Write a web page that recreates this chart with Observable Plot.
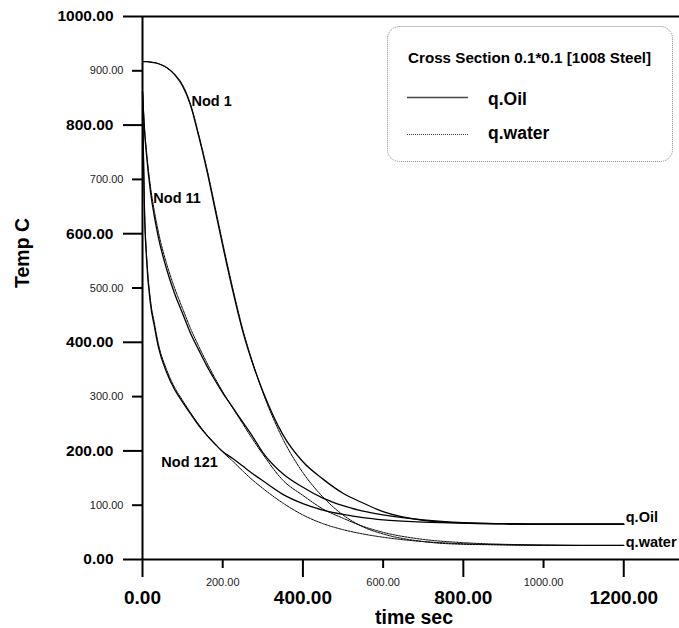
<!DOCTYPE html>
<html><head><meta charset="utf-8">
<script src="https://cdn.jsdelivr.net/npm/d3@7"></script>
<script src="https://cdn.jsdelivr.net/npm/@observablehq/plot@0.6"></script>
<style>body{margin:0;background:#fff;} #chart{width:679px;height:628px;}</style>
</head><body><div id="chart"></div>
<script>
// ---- data ----
const time = [0,2,5,10,20,30,40,60,80,100,120,140,160,180,200,225,250,275,300,350,400,450,500,550,600,700,800,900,1000,1100,1200];
const nod1Oil   = [917,917,917,917,916,915,913,906,893,872,836,780,718,648,578,495,420,360,310,230,180,148,122,104,88,72,67,65.5,65,65,65];
const nod1Water = [917,917,917,917,916,915,913,906,894,874,838,783,722,653,583,500,424,362,308,222,160,115,82,60,47,33,28,27,26,26,26];
const nod11Oil  = [862,830,790,745,677,630,592,535,490,453,416,386,357,331,307,280,253,226,197,158,133,113,99,89,82,73,68,66,65,65,65];
const nod11Water= [862,833,795,752,686,640,602,545,500,462,425,393,363,335,309,279,250,221,194,146,118,93,76,61,50,37,31,28,27,26,26];
const nod121Oil = [862,760,640,555,470,428,390,345,313,290,268,247,229,213,199,186,172,158,145,120,103,91,83,77,73,69,67,66,65,65,65];
const nod121Water=[862,765,648,563,477,434,396,350,317,293,270,249,230,214,198,181,163,146,131,104,82,66,55,47,41,33,29,27,26,26,26];

const nodeNames = ["Nod 1","Nod 11","Nod 121"];
const nodeLabelTime = [122, 27, 47];
const nodeLabelTemp = [844, 666, 178];

const yMajor = [0,200,400,600,800,1000];
const yMinor = [100,300,500,700,900];
const xMajor = [0,400,800,1200];
const xMinor = [200,600,1000];

const legendTitle = "Cross Section 0.1*0.1 [1008 Steel]";
const mediumNames = ["q.Oil","q.water"];

// ---- tables built from the arrays ----
const oilSeries = [nod1Oil, nod11Oil, nod121Oil];
const waterSeries = [nod1Water, nod11Water, nod121Water];
const toRows = (list, medium) => list.flatMap((vals, k) => time.map((t, i) => ({t, T: vals[i], node: nodeNames[k], medium})));
const oilRows = toRows(oilSeries, mediumNames[0]);
const waterRows = toRows(waterSeries, mediumNames[1]);
const nodeLabels = nodeNames.map((n, i) => ({label: n, t: nodeLabelTime[i], T: nodeLabelTemp[i]}));
const oilEnd = [{label: mediumNames[0], t: time[time.length-1], T: nod1Oil[nod1Oil.length-1]}];
const waterEnd = [{label: mediumNames[1], t: time[time.length-1], T: nod1Water[nod1Water.length-1]}];

const fmt = d3.format(".2f");
const font = "'Liberation Sans', Arial, sans-serif";

const chart = Plot.plot({
  width: 679, height: 628,
  marginLeft: 142, marginRight: 0, marginTop: 16, marginBottom: 69,
  style: {fontFamily: font, background: "#fff", color: "#000", overflow: "visible"},
  x: {domain: [0, 1339]},
  y: {domain: [0, 1000]},
  marks: [
    Plot.axisY(yMajor, {tickSize: 19, tickPadding: 10, tickFormat: fmt, fontSize: 15.5, fontWeight: "bold", stroke: "#000", strokeWidth: 2, label: null}),
    Plot.axisY(yMinor, {tickSize: 10, tickPadding: 9, tickFormat: fmt, fontSize: 11, fill: "#222", stroke: "#000", strokeWidth: 2, label: null}),
    Plot.axisX(xMajor, {tickSize: 18, tickPadding: 13, tickFormat: fmt, fontSize: 19, fontWeight: "bold", stroke: "#000", strokeWidth: 2, label: null}),
    Plot.axisX(xMinor, {tickSize: 9, tickPadding: 10, tickFormat: fmt, fontSize: 11, fill: "#222", stroke: "#000", strokeWidth: 2, label: null}),
    Plot.ruleX([0], {strokeWidth: 2}),
    Plot.ruleY([0, 1000], {strokeWidth: 2}),
    Plot.line(waterRows, {x: "t", y: "T", z: "node", stroke: "#000", strokeWidth: 1, strokeDasharray: "2,1", curve: "monotone-x"}),
    Plot.line(oilRows, {x: "t", y: "T", z: "node", stroke: "#000", strokeWidth: 1.3, curve: "monotone-x"}),
    Plot.text(nodeLabels, {x: "t", y: "T", text: "label", textAnchor: "start", lineAnchor: "middle", fontSize: 14.5, fontWeight: "bold", fill: "#000"}),
    Plot.text(oilEnd, {x: "t", y: "T", text: "label", textAnchor: "start", dx: 2, dy: -7, fontSize: 14.5, fontWeight: "bold", fill: "#000"}),
    Plot.text(waterEnd, {x: "t", y: "T", text: "label", textAnchor: "start", dx: 2, dy: -3, fontSize: 14.5, fontWeight: "bold", fill: "#000"}),
    Plot.text(["Temp C"], {frameAnchor: "left", lineAnchor: "middle", rotate: -90, dx: -120, fontSize: 19.5, fontWeight: "bold", fill: "#000"}),
    Plot.text(["time sec"], {frameAnchor: "bottom", lineAnchor: "middle", dx: 3, dy: 58, fontSize: 19.5, fontWeight: "bold", fill: "#000"})
  ]
});

// legend box inside the frame
const svg = d3.select(chart);
const lg = svg.append("g").attr("font-family", font).attr("font-weight", "bold").attr("fill", "#000").attr("text-anchor", "start");
lg.append("rect").attr("x", 387.5).attr("y", 26.5).attr("width", 285).attr("height", 135).attr("rx", 12)
  .attr("fill", "#fff").attr("stroke", "#888").attr("stroke-dasharray", "1,1");
lg.append("text").attr("x", 408).attr("y", 63).attr("font-size", 15.2).attr("text-anchor", "start").text(legendTitle);
lg.append("line").attr("x1", 407).attr("x2", 468).attr("y1", 97.5).attr("y2", 97.5).attr("stroke", "#444").attr("stroke-width", 1.5);
lg.append("text").attr("x", 488).attr("y", 105).attr("font-size", 17.5).attr("text-anchor", "start").text(mediumNames[0]);
lg.append("line").attr("x1", 407).attr("x2", 468).attr("y1", 134.5).attr("y2", 134.5).attr("stroke", "#444").attr("stroke-width", 1).attr("stroke-dasharray", "1,1");
lg.append("text").attr("x", 488).attr("y", 139).attr("font-size", 17.5).attr("text-anchor", "start").text(mediumNames[1]);

document.getElementById("chart").appendChild(chart);
</script>
</body></html>
